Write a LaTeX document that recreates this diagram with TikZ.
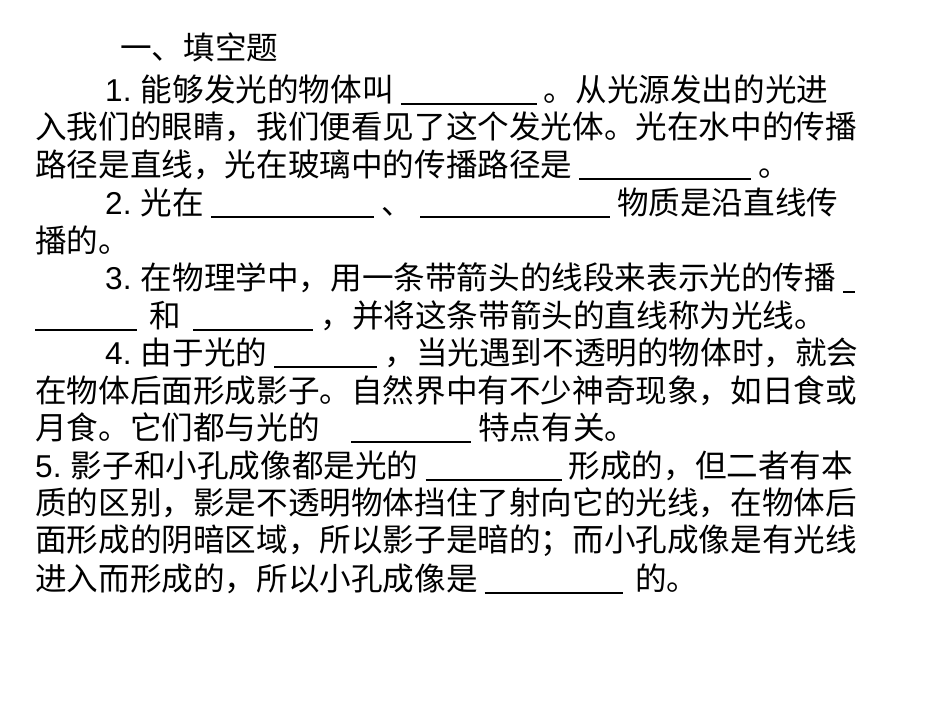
\documentclass[tikz,border=0pt]{standalone}
\usepackage{fontspec}
\setmainfont{Noto Sans CJK SC}
\newfontfamily\lat{Liberation Sans}
\newcommand{\bl}[1]{\rule[-3pt]{#1pt}{1.6pt}}
\begin{document}
\begin{tikzpicture}[x=1pt,y=1pt,
  ln/.style={anchor=west,inner sep=0pt,font=\fontsize{31.6}{33}\selectfont}]
\useasboundingbox (0,0) rectangle (950,713);
\fill[white] (0,0) rectangle (950,713);
\node[ln] (l1) at (120,666) {一、填空题};
\node[ln] (l2) at (105,623) {{\lat 1.} 能够发光的物体叫 \bl{136} 。从光源发出的光进};
\node[ln] (l3) at (35,586) {入我们的眼睛，我们便看见了这个发光体。光在水中的传播};
\node[ln] (l4) at (35,548) {路径是直线，光在玻璃中的传播路径是 \bl{172} 。};
\node[ln] (l5) at (105,510) {{\lat 2.} 光在 \bl{163} 、 \bl{190} 物质是沿直线传};
\node[ln] (l6) at (35,473) {播的。};
\node[ln] (l7) at (105,435) {{\lat 3.} 在物理学中，用一条带箭头的线段来表示光的传播 \bl{12}};
\node[ln] (l8) at (35,397) {\bl{102}\, 和 \,\bl{120} ，并将这条带箭头的直线称为光线。};
\node[ln] (l9) at (105,360) {{\lat 4.} 由于光的 \bl{103} ，当光遇到不透明的物体时，就会};
\node[ln] (l10) at (35,322) {在物体后面形成影子。自然界中有不少神奇现象，如日食或};
\node[ln] (l11) at (35,285) {月食。它们都与光的\quad \bl{120} 特点有关。};
\node[ln] (l12) at (35,247) {{\lat 5.} 影子和小孔成像都是光的 \bl{136} 形成的，但二者有本};
\node[ln] (l13) at (35,210) {质的区别，影是不透明物体挡住了射向它的光线，在物体后};
\node[ln] (l14) at (35,172) {面形成的阴暗区域，所以影子是暗的；而小孔成像是有光线};
\node[ln] (l15) at (35,134) {进入而形成的，所以小孔成像是 \bl{138} \,的。};
\end{tikzpicture}
\end{document}
